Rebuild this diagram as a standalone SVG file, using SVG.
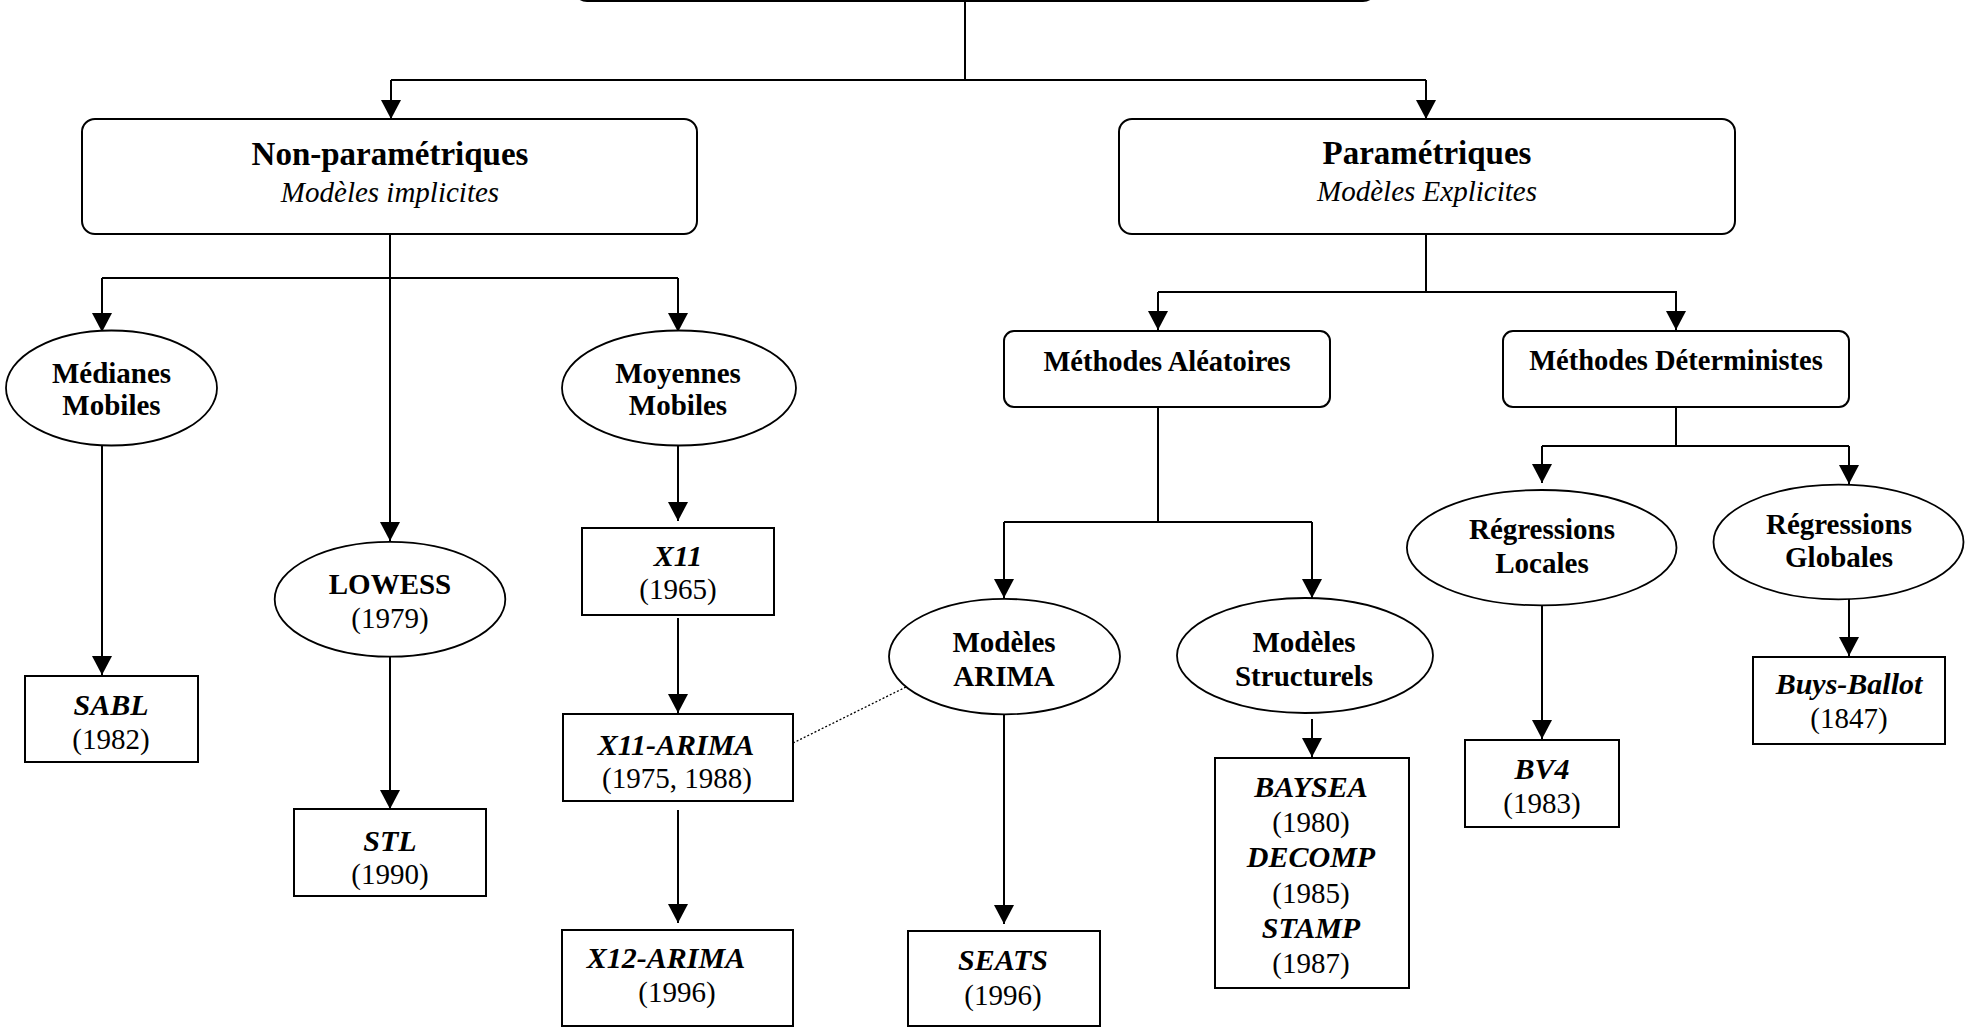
<svg xmlns="http://www.w3.org/2000/svg" width="1965" height="1030" viewBox="0 0 1965 1030">
<style>
  .bx{fill:#fff;stroke:#000;stroke-width:2}
  .el{fill:#fff;stroke:#000;stroke-width:1.8}
  .ln{fill:none;stroke:#000;stroke-width:2}
  .ar{fill:none;stroke:#000;stroke-width:2;marker-end:url(#ah)}
  .dot{fill:none;stroke:#000;stroke-width:1.3;stroke-dasharray:2 2}
  text{font-family:"Liberation Serif","Times New Roman",serif;text-anchor:middle;fill:#000}
  .t1{font-size:33px;font-weight:bold}
  .s1{font-size:29px;font-style:italic}
  .b{font-size:29px;font-weight:bold}
  .bm{font-size:28.5px;font-weight:bold}
  .bi{font-size:30px;font-weight:bold;font-style:italic}
  .y{font-size:29px}
</style>
<defs>
  <marker id="ah" markerUnits="userSpaceOnUse" markerWidth="19" markerHeight="20" refX="19" refY="10" orient="auto">
    <path d="M0,0 L19,10 L0,20 z" fill="#000"/>
  </marker>
</defs>
<g id="connectors">
  <path class="ln" d="M965,2 V80 M391,80 H1426"/>
  <path class="ar" d="M391,80 V119"/>
  <path class="ar" d="M1426,80 V119"/>
  <path class="ar" d="M390,234 V541"/>
  <path class="ln" d="M102,278 H678"/>
  <path class="ar" d="M102,278 V332"/>
  <path class="ar" d="M678,278 V332"/>
  <path class="ar" d="M102,446 V675"/>
  <path class="ar" d="M390,657 V809"/>
  <path class="ar" d="M678,446 V521"/>
  <path class="ar" d="M678,618 V713"/>
  <path class="ar" d="M678,810 V923"/>
  <path class="ln" d="M1426,234 V292 M1158,292 H1677"/>
  <path class="ar" d="M1158,292 V330"/>
  <path class="ar" d="M1676,292 V330"/>
  <path class="ln" d="M1158,407 V522 M1004,522 H1312"/>
  <path class="ar" d="M1004,522 V598"/>
  <path class="ar" d="M1312,522 V598"/>
  <path class="ar" d="M1004,714 V924"/>
  <path class="ar" d="M1312,719 V757"/>
  <path class="ln" d="M1676,407 V446 M1542,446 H1849"/>
  <path class="ar" d="M1542,446 V483"/>
  <path class="ar" d="M1849,446 V484"/>
  <path class="ar" d="M1542,605 V739"/>
  <path class="ar" d="M1849,599 V656"/>
  <path class="dot" d="M793,743 L908,686"/>
</g>
<g id="top"><rect class="bx" x="574" y="-60" width="802" height="61" rx="13"/></g>
<g id="nonparam">
  <rect class="bx" x="82" y="119" width="615" height="115" rx="13"/>
  <text class="t1" x="390" y="165">Non-paramétriques</text>
  <text class="s1" x="390" y="202">Modèles implicites</text>
</g>
<g id="param">
  <rect class="bx" x="1119" y="119" width="616" height="115" rx="13"/>
  <text class="t1" x="1427" y="164">Paramétriques</text>
  <text class="s1" x="1427" y="201">Modèles Explicites</text>
</g>
<g id="medianes">
  <ellipse class="el" cx="111.5" cy="388" rx="105.5" ry="57.5"/>
  <text class="b" x="111.5" y="383">Médianes</text>
  <text class="b" x="111.5" y="415">Mobiles</text>
</g>
<g id="moyennes">
  <ellipse class="el" cx="679" cy="388" rx="117" ry="57.5"/>
  <text class="b" x="678" y="383">Moyennes</text>
  <text class="b" x="678" y="415">Mobiles</text>
</g>
<g id="lowess">
  <ellipse class="el" cx="390" cy="599.3" rx="115.3" ry="57.4"/>
  <text class="b" x="390" y="594">LOWESS</text>
  <text class="y" x="390" y="628">(1979)</text>
</g>
<g id="sabl">
  <rect class="bx" x="25" y="676" width="173" height="86"/>
  <text class="bi" x="111" y="715">SABL</text>
  <text class="y" x="111" y="749">(1982)</text>
</g>
<g id="stl">
  <rect class="bx" x="294" y="809" width="192" height="87"/>
  <text class="bi" x="390" y="851">STL</text>
  <text class="y" x="390" y="884">(1990)</text>
</g>
<g id="x11">
  <rect class="bx" x="582" y="528" width="192" height="87"/>
  <text class="bi" x="678" y="566">X11</text>
  <text class="y" x="678" y="599">(1965)</text>
</g>
<g id="x11arima">
  <rect class="bx" x="563" y="714" width="230" height="87"/>
  <text class="bi" x="676" y="755">X11-ARIMA</text>
  <text class="y" x="677" y="788">(1975, 1988)</text>
</g>
<g id="x12arima">
  <rect class="bx" x="562" y="930" width="231" height="96"/>
  <text class="bi" x="666" y="968">X12-ARIMA</text>
  <text class="y" x="677" y="1002">(1996)</text>
</g>
<g id="methAlea">
  <rect class="bx" x="1004" y="331" width="326" height="76" rx="10"/>
  <text class="bm" x="1167" y="371">Méthodes Aléatoires</text>
</g>
<g id="methDet">
  <rect class="bx" x="1503" y="331" width="346" height="76" rx="10"/>
  <text class="bm" x="1676" y="370">Méthodes Déterministes</text>
</g>
<g id="arima">
  <ellipse class="el" cx="1004.5" cy="656.6" rx="115.5" ry="57.7"/>
  <text class="b" x="1004" y="651.5">Modèles</text>
  <text class="b" x="1004" y="685.5">ARIMA</text>
</g>
<g id="structurels">
  <ellipse class="el" cx="1305" cy="655.5" rx="128" ry="57.5"/>
  <text class="b" x="1304" y="651.5">Modèles</text>
  <text class="b" x="1304" y="685.5">Structurels</text>
</g>
<g id="seats">
  <rect class="bx" x="908" y="931" width="192" height="95"/>
  <text class="bi" x="1003" y="970">SEATS</text>
  <text class="y" x="1003" y="1005">(1996)</text>
</g>
<g id="structProgs">
  <rect class="bx" x="1215" y="758" width="194" height="230"/>
  <text class="bi" x="1311" y="797">BAYSEA</text>
  <text class="y" x="1311" y="832">(1980)</text>
  <text class="bi" x="1311" y="867">DECOMP</text>
  <text class="y" x="1311" y="903">(1985)</text>
  <text class="bi" x="1311" y="938">STAMP</text>
  <text class="y" x="1311" y="973">(1987)</text>
</g>
<g id="regLocales">
  <ellipse class="el" cx="1541.7" cy="547.7" rx="134.8" ry="57.7"/>
  <text class="b" x="1542" y="538.6">Régressions</text>
  <text class="b" x="1542" y="572.5">Locales</text>
</g>
<g id="regGlobales">
  <ellipse class="el" cx="1838.5" cy="542" rx="125" ry="57.3"/>
  <text class="b" x="1839" y="534">Régressions</text>
  <text class="b" x="1839" y="567">Globales</text>
</g>
<g id="bv4">
  <rect class="bx" x="1465" y="740" width="154" height="87"/>
  <text class="bi" x="1542" y="779">BV4</text>
  <text class="y" x="1542" y="812.5">(1983)</text>
</g>
<g id="buysBallot">
  <rect class="bx" x="1753" y="657" width="192" height="87"/>
  <text class="bi" x="1849" y="694">Buys-Ballot</text>
  <text class="y" x="1849" y="728">(1847)</text>
</g>
</svg>
